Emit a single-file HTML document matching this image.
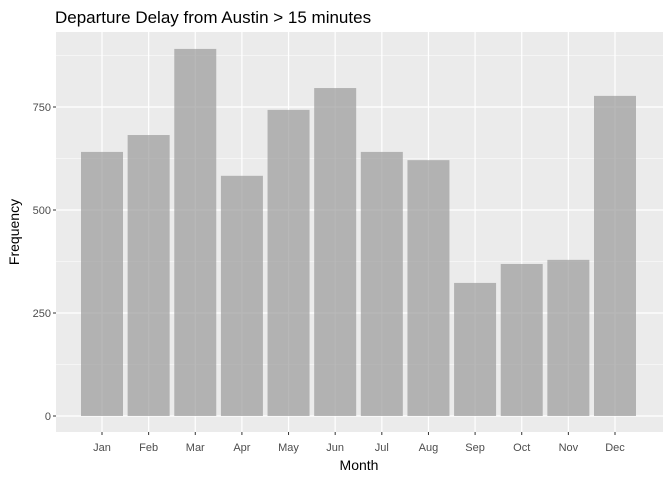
<!DOCTYPE html>
<html><head><meta charset="utf-8"><style>
body{margin:0;background:#fff;font-family:"Liberation Sans",Arial,sans-serif}
</style></head><body>
<svg id="chart" width="672" height="480" xmlns="http://www.w3.org/2000/svg">
<rect width="672" height="480" fill="#fff"/>
<text x="55" y="23" font-size="17" fill="#000">Departure Delay from Austin &gt; 15 minutes</text>
<rect x="56" y="32" width="607" height="400" fill="#ebebeb"/>
<g id="grid"></g>
<g id="bars"></g>
<g id="axes"></g>
<text x="359" y="470" font-size="14" text-anchor="middle" fill="#000">Month</text>
<text transform="translate(19,232) rotate(-90)" font-size="14" text-anchor="middle" fill="#000">Frequency</text>
</svg>
<script>
const months = ["Jan","Feb","Mar","Apr","May","Jun","Jul","Aug","Sep","Oct","Nov","Dec"];
const delays = [641,682,891,583,743,796,641,621,323,369,379,777];
const yTicks = [0,250,500,750];
const yMinor = [125,375,625,875];

const NS="http://www.w3.org/2000/svg";
const x0=102, step=(615-102)/11, barW=42;
const xScale=i=>x0+i*step;
const yScale=v=>416-v*0.412;
function mk(tag,attrs,parent){const e=document.createElementNS(NS,tag);for(const k in attrs)e.setAttribute(k,attrs[k]);parent.appendChild(e);return e;}
const grid=document.getElementById('grid'),bars=document.getElementById('bars'),axes=document.getElementById('axes');
yMinor.forEach(v=>{const l=mk('line',{x1:56,x2:663,y1:yScale(v),y2:yScale(v),stroke:'#fff','stroke-width':0.6},grid);

});
yTicks.forEach(v=>{const l=mk('line',{x1:56,x2:663,y1:yScale(v),y2:yScale(v),stroke:'#fff','stroke-width':1.2},grid);


const t=mk('text',{x:51,y:yScale(v)+4,'font-size':11,'text-anchor':'end',fill:'#4d4d4d'},axes);t.textContent=v;


const tk=mk('line',{x1:53,x2:56,y1:yScale(v),y2:yScale(v),stroke:'#333'},axes);

});
months.forEach((m,i)=>{const x=xScale(i);
const l=mk('line',{x1:x,x2:x,y1:32,y2:432,stroke:'#fff','stroke-width':1.2},grid);


const b=mk('rect',{x:x-barW/2,y:yScale(delays[i]),width:barW,height:yScale(0)-yScale(delays[i]),fill:'#9a9a9a','fill-opacity':0.7},bars);


const t=mk('text',{x:x,y:451,'font-size':11,'text-anchor':'middle',fill:'#4d4d4d'},axes);t.textContent=m;


const tk=mk('line',{x1:x,x2:x,y1:432,y2:435,stroke:'#333'},axes);

});
</script>
</body></html>
